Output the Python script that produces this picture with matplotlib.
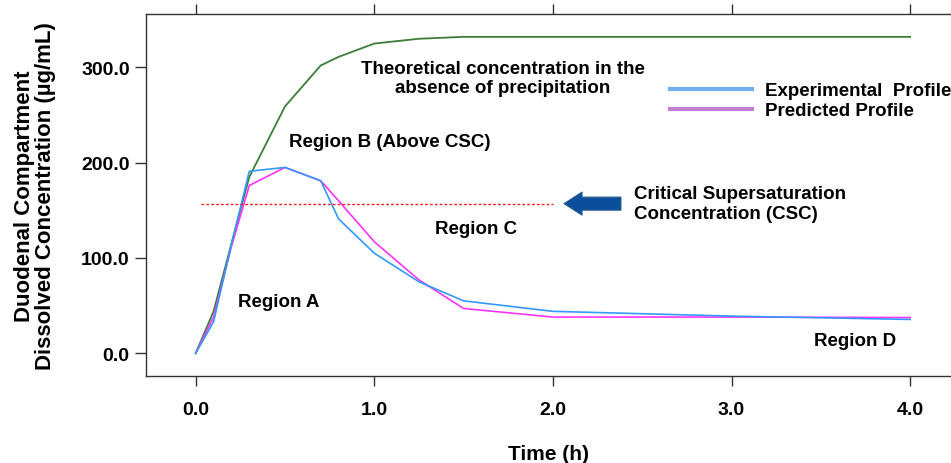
import matplotlib
matplotlib.use('Agg')
import matplotlib.pyplot as plt
from matplotlib.lines import Line2D

plt.rcParams['font.family'] = ['Liberation Sans', 'DejaVu Sans']
plt.rcParams['font.weight'] = 'bold'

# time points (h)
t_theo = [0.0, 0.1, 0.2, 0.3, 0.5, 0.7, 0.8, 1.0, 1.25, 1.5, 2.0, 3.0, 4.0]
theoretical = [0.0, 44.0, 115.0, 185.0, 259.0, 302.0, 311.0, 325.0, 330.0, 332.0, 332.0, 332.0, 332.0]

t_prof = [0.0, 0.1, 0.2, 0.3, 0.5, 0.7, 0.8, 1.0, 1.25, 1.5, 2.0, 3.0, 4.0]
experimental = [0.0, 33.0, 114.0, 191.0, 195.0, 181.0, 141.0, 105.0, 75.0, 55.0, 44.0, 39.0, 35.5]
predicted = [0.0, 38.0, 112.0, 176.0, 195.0, 181.0, 160.0, 117.0, 77.0, 47.0, 38.0, 38.0, 37.5]

csc = 157.0
csc_start, csc_end = 0.03, 2.0

x_ticks = [0.0, 1.0, 2.0, 3.0, 4.0]
y_ticks = [0.0, 100.0, 200.0, 300.0]

fig = plt.figure(figsize=(9.51, 4.64), dpi=100)
ax = fig.add_axes([0.1532, 0.1882, 0.8468, 0.7795])

ax.plot(t_theo, theoretical, color='#3b7d3b', lw=1.3)
ax.plot(t_prof, predicted, color='#ff33ff', lw=1.2)
ax.plot(t_prof, experimental, color='#3399ff', lw=1.2)
ax.hlines(csc, csc_start, csc_end, colors='#ff2020', linestyles=(0, (2, 1.5)), lw=1.0)

ax.annotate('', xy=(2.062, csc), xytext=(2.381, csc),
            arrowprops=dict(arrowstyle='simple,head_length=1.3,head_width=1.66,tail_width=0.94',
                            mutation_scale=10, fc='#0b4f9c', ec='#2a5f95', lw=0.8,
                            shrinkA=0, shrinkB=0))

fs = 13.5
ax.text(1.72, 289, 'Theoretical concentration in the\nabsence of precipitation',
        ha='center', va='center', fontsize=fs, fontweight='bold', linespacing=1.15)
ax.text(1.089, 222.5, 'Region B (Above CSC)', ha='center', va='center', fontsize=fs, fontweight='bold')
ax.text(2.454, 157, 'Critical Supersaturation\nConcentration (CSC)', ha='left', va='center',
        fontsize=fs, fontweight='bold', linespacing=1.2)
ax.text(1.57, 131, 'Region C', ha='center', va='center', fontsize=fs, fontweight='bold')
ax.text(0.467, 54.7, 'Region A', ha='center', va='center', fontsize=fs, fontweight='bold')
ax.text(3.69, 12.9, 'Region D', ha='center', va='center', fontsize=fs, fontweight='bold')

handles = [Line2D([], [], color='#6fb0f0', lw=3), Line2D([], [], color='#c07fd0', lw=3)]
ax.legend(handles, ['Experimental  Profile', 'Predicted Profile'], loc='upper left',
          bbox_to_anchor=(0.651, 0.811), frameon=False, borderpad=0, borderaxespad=0,
          handlelength=4.35, handletextpad=0.7, labelspacing=0.14,
          prop={'size': fs, 'weight': 'bold'})

ax.set_xlim(-0.28, 4.229)
ax.set_ylim(-23.5, 356)
ax.set_xticks(x_ticks)
ax.set_xticklabels(['%.1f' % v for v in x_ticks])
ax.set_yticks(y_ticks)
ax.set_yticklabels(['%.1f' % v for v in y_ticks])
ax.tick_params(axis='x', direction='out', length=7, width=1, top=True, pad=11,
               labelsize=14, colors='#333333', labelcolor='black')
ax.tick_params(axis='y', direction='out', length=8, width=1, pad=3.5,
               labelsize=14, colors='#333333', labelcolor='black')
for lab in ax.get_xticklabels() + ax.get_yticklabels():
    lab.set_fontweight('bold')

ax.spines['right'].set_visible(False)
for s in ['left', 'top', 'bottom']:
    ax.spines[s].set_color('#333333')
    ax.spines[s].set_linewidth(1.0)

ax.set_xlabel('Time (h)', fontsize=15, fontweight='bold', labelpad=19)
ax.set_ylabel('Duodenal Compartment\nDissolved Concentration (\u00b5g/mL)', fontsize=16,
              fontweight='bold', labelpad=18, linespacing=1.0)

fig.savefig('out.png', dpi=100)
